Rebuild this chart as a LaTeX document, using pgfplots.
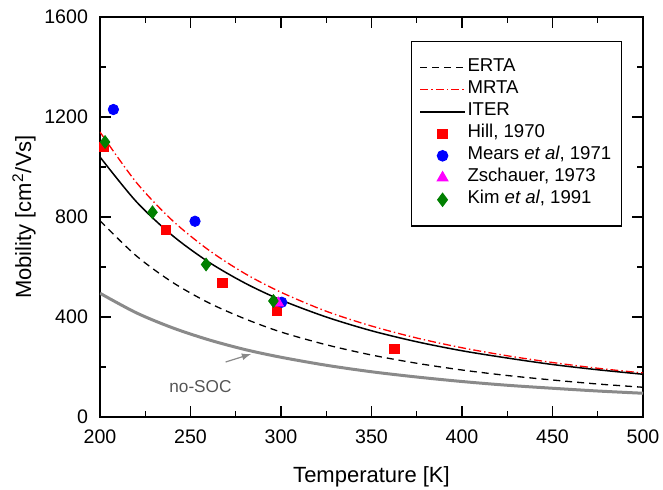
\documentclass[border=0pt]{standalone}
\usepackage{fontspec}
\setmainfont{Liberation Sans}
\usepackage{pgfplots}
\pgfplotsset{compat=1.18}
\definecolor{mred}{RGB}{255,0,0}
\definecolor{mblue}{RGB}{0,0,255}
\definecolor{mmag}{RGB}{255,0,255}
\definecolor{mgreen}{RGB}{0,128,0}
\definecolor{mgray}{RGB}{138,138,138}
\definecolor{tgray}{RGB}{85,85,85}
\begin{document}
\begin{tikzpicture}
\begin{axis}[
  scale only axis,
  width=271.5pt, height=200pt,
  xmin=200, xmax=500, ymin=0, ymax=1600,
  xtick={200,250,...,500}, ytick={0,400,...,1600},
  minor xtick={225,275,...,475}, minor ytick={200,600,...,1400},
  tick align=inside,
  major tick length=5.5pt, minor tick length=3pt,
  axis line style={line width=0.7pt},
  every tick/.style={line width=0.7pt, black},
  /pgf/number format/assume math mode=true,
  /pgf/number format/1000 sep={},
  tick label style={font=\fontsize{9.8}{11}\selectfont},
  yticklabel style={xshift=-2.5pt},
  xticklabel style={yshift=-3pt},
  label style={font=\fontsize{11}{13}\selectfont},
  xlabel={Temperature [K]},
  ylabel={Mobility [cm\textsuperscript{2}/Vs]},
  xlabel style={at={(axis description cs:0.5,-0.149)}, anchor=center},
  ylabel style={at={(axis description cs:-0.14,0.5)}, anchor=center, rotate=0},
  clip mode=individual,
  legend style={at={(rel axis cs:0.961,0.94)}, anchor=north east,
    draw=black, line width=0.6pt, inner xsep=4pt, inner ysep=7.6pt,
    font=\fontsize{9.3}{11}\selectfont, row sep=0pt,
    nodes={inner sep=1pt, text height=6.5pt, text depth=2.5pt}},
  legend cell align=left,
  legend image code/.code={\draw[mark repeat=2,mark phase=2,#1] plot coordinates {(0cm,0cm) (0.39cm,0cm) (0.78cm,0cm)};},
]
% ERTA
\addplot[black, line width=0.65pt, dash pattern=on 3.5pt off 2.5pt, smooth, no markers] coordinates {
(200,785)(220,645)(240,539)(260,457)(280,393)(300,340)(325,289)(350,248)(375,215)(400,188)(425,166)(450,148)(475,132)(500,119)};
\addlegendentry{ERTA}
% MRTA
\addplot[mred, line width=0.65pt, dash pattern=on 4pt off 1.5pt on 0.7pt off 1.5pt, smooth, no markers] coordinates {
(200,1140)(220,939)(240,786)(260,668)(280,574)(300,499)(325,423)(350,364)(375,316)(400,277)(425,245)(450,218)(475,195)(500,176)};
\addlegendentry{MRTA}
% ITER
\addplot[black, line width=0.75pt, smooth, no markers] coordinates {
(200,1040)(220,862)(240,726)(260,620)(280,536)(300,468)(325,400)(350,345)(375,301)(400,265)(425,236)(450,210)(475,189)(500,171)};
\addlegendentry{ITER}
% no-SOC
\addplot[mgray, line width=1.5pt, smooth, no markers, forget plot] coordinates {
(200,495)(220,417)(240,357)(260,309)(280,270)(300,239)(325,207)(350,181)(375,160)(400,142)(425,127)(450,115)(475,104)(500,95)};
% Hill
\addplot[only marks, mark=square*, mark size=2.3pt, mred, mark options={draw=mred, fill=mred}] coordinates {
(202,1079)(236.5,747)(267.6,536)(297.8,424)(362.6,272)};
\addlegendentry{Hill, 1970}
% Mears
\addplot[only marks, mark=*, mark size=2.6pt, mblue, mark options={draw=mblue, fill=mblue}] coordinates {
(207.4,1230)(252.5,783)(300.4,459)};
\addlegendentry{Mears \textit{et al}, 1971}
% Zschauer
\addplot[only marks, mark=triangle*, mark size=3pt, mmag, mark options={draw=mmag, fill=mmag}] coordinates {
(298.5,456)};
\addlegendentry{Zschauer, 1973}
% Kim
\addplot[only marks, mark=diamond*, mark size=3.2pt, mgreen, mark options={draw=mgreen, fill=mgreen}] coordinates {
(202.8,1100)(229,819)(258.6,610)(295.8,464)};
\addlegendentry{Kim \textit{et al}, 1991}
\draw[mgray, line width=0.6pt, -latex] (axis cs:269.4,220) -- (axis cs:283.5,252);
\node[text=tgray, font=\fontsize{8.6}{10}\selectfont] at (axis cs:255.5,120) {no-SOC};
\coordinate (SW) at (rel axis cs:0,0);
\coordinate (NE) at (rel axis cs:1,1);
\end{axis}
\pgfresetboundingbox
\path[use as bounding box] ([xshift=-50pt,yshift=-36pt]SW) rectangle ([xshift=10pt,yshift=8.5pt]NE);
\end{tikzpicture}
\end{document}
